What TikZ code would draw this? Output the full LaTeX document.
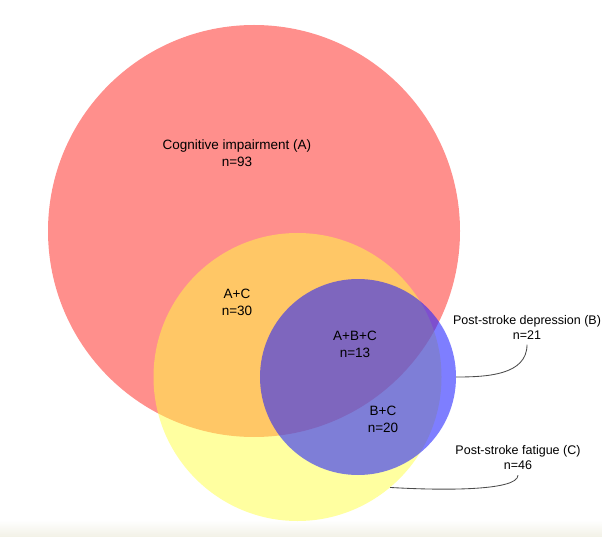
\documentclass[tikz,border=0pt]{standalone}
\usepackage{fontspec}
\setmainfont{Liberation Sans}
\usetikzlibrary{positioning,shapes.geometric,backgrounds,calc}

\begin{document}
\begin{tikzpicture}[x=1pt,y=-1pt]
       \definecolor{red}{HTML}{FF8F8C}
       \definecolor{yellow}{HTML}{FFFF41}
       \definecolor{blue}{HTML}{2121FF}
       \definecolor{band}{HTML}{F2F1E6}
       \newcommand{\setname}[1]{\begin{tabular}{c}#1\end{tabular}}
       \tikzstyle{venn}      = [circle, inner sep=0pt]
       \tikzstyle{label}     = [font=\fontsize{13.5}{16.5}\selectfont, inner sep=1pt]
       \tikzstyle{outlabel}  = [font=\fontsize{12.5}{15}\selectfont, inner sep=1pt]
       \tikzstyle{connector} = [line width=0.3mm, draw=black!70]

       \useasboundingbox (0,0) rectangle (602,537);
       \shade [top color=white, bottom color=band] (0,520) rectangle (602,537);

       \node [venn, minimum size=412pt, fill=red] (setA) at (254,231) {};
       \node [venn, minimum size=288pt, fill=yellow, fill opacity=0.5] (setC) at (297.5,377) {};
       \node [venn, minimum size=196pt, fill=blue, fill opacity=0.58] (setB) at (358,377) {};

       \node [label] (adesc)   at (237,154.5) {\setname{Cognitive impairment (A)\\n=93}};
       \node [label] (acdesc)  at (237,303.5) {\setname{A+C\\n=30}};
       \node [label] (abcdesc) at (355,345.5) {\setname{A+B+C\\n=13}};
       \node [label] (bcdesc)  at (383,420.5) {\setname{B+C\\n=20}};
       \node [outlabel] (bdesc) at (527,328.5) {\setname{Post-stroke depression (B)\\n=21}};
       \node [outlabel] (cdesc) at (518,459)   {\setname{Post-stroke fatigue (C)\\n=46}};

       \draw [connector] (bdesc.south) to[out=-90, in=0] (setB.east);
       \draw [connector] (cdesc.south) .. controls +(0,16) and +(50,3) .. (setC.-50);
     \end{tikzpicture}
\end{document}
